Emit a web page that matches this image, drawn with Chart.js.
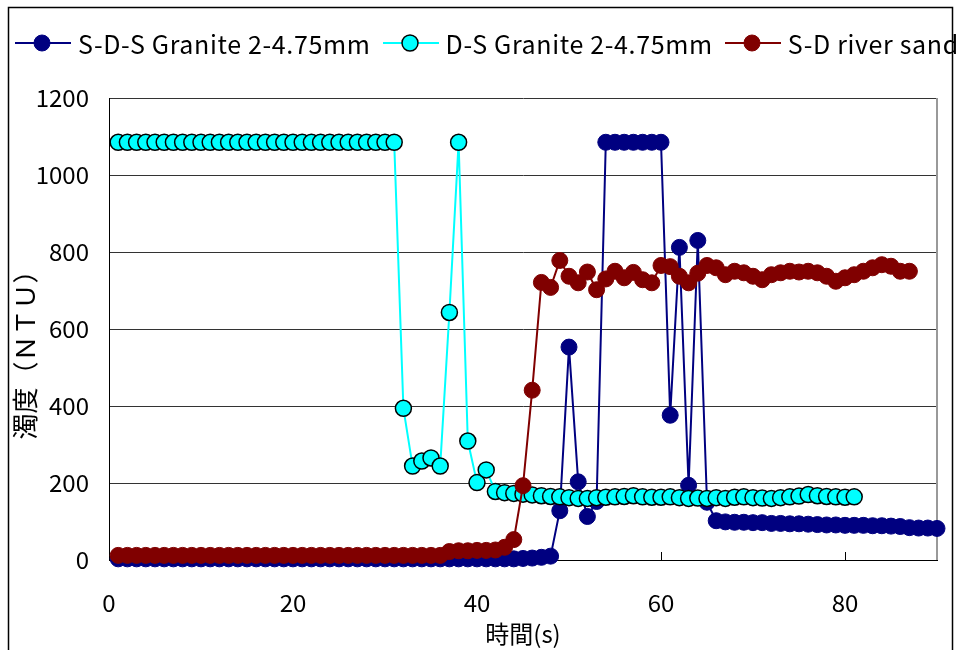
<!DOCTYPE html>
<html>
<head>
<meta charset="utf-8">
<script src="https://cdn.jsdelivr.net/npm/chart.js@4"></script>
<style>
  html, body { margin: 0; padding: 0; background: #fff; overflow: hidden; }
  #wrap { position: relative; width: 957px; height: 650px; overflow: hidden; }
  #legend { position: absolute; left: 15px; top: 25px; white-space: nowrap; display: flex; align-items: center;
            font-family: "Noto Sans CJK JP", sans-serif; font-size: 25px; letter-spacing: 0.65px; color: #000; }
  .item { display: flex; align-items: center; margin-right: 12px; }
  .item canvas { margin-right: 7px; }
</style>
</head>
<body>
<div id="wrap">
  <canvas id="chart" width="957" height="650"></canvas>
  <div id="legend"></div>
</div>
<script>
// time (s)
const seconds = [1,2,3,4,5,6,7,8,9,10,11,12,13,14,15,16,17,18,19,20,
    21,22,23,24,25,26,27,28,29,30,31,32,33,34,35,36,37,38,39,40,
    41,42,43,44,45,46,47,48,49,50,51,52,53,54,55,56,57,58,59,60,
    61,62,63,64,65,66,67,68,69,70,71,72,73,74,75,76,77,78,79,80,
    81,82,83,84,85,86,87,88,89,90];

// turbidity (NTU)
const sdsGranite = [3,3,3,3,3,3,3,3,3,3,3,3,3,3,3,3,3,3,3,3,
    3,3,3,3,3,3,3,3,3,3,3,3,3,3,3,3,3,3,3,3,
    3,3,3,3,4,5,7,10,128,553,203,113,152,1085,1085,1085,1085,1085,1085,1085,
    376,812,194,830,150,102,99,98,98,97,97,95,95,94,94,93,92,91,91,90,
    90,90,89,89,88,87,84,83,83,82];
const dsGranite = [1085,1085,1085,1085,1085,1085,1085,1085,1085,1085,
    1085,1085,1085,1085,1085,1085,1085,1085,1085,1085,
    1085,1085,1085,1085,1085,1085,1085,1085,1085,1085,1085,
    394,244,257,265,244,643,1085,309,201,234,178,175,173,171,169,167,165,164,162,
    160,160,162,163,164,165,167,164,163,163,164,162,160,161,160,162,160,163,164,162,
    161,160,162,164,166,170,167,165,164,163,164];
const sdRiverSand = [12,12,12,12,12,12,12,12,12,12,12,12,12,12,12,12,12,12,12,12,
    12,12,12,12,12,12,12,12,12,12,12,12,12,12,12,12,
    22,24,24,25,25,26,33,53,193,441,721,708,778,
    737,720,748,702,730,750,733,747,728,720,
    765,762,737,720,745,765,759,741,750,746,
    737,728,741,746,750,748,750,746,737,724,
    733,741,750,759,767,763,750,750];

const seriesNames = ['S-D-S Granite 2-4.75mm', 'D-S Granite 2-4.75mm', 'S-D river sand'];
const xTicks = [0, 20, 40, 60, 80];
const yTicks = [0, 200, 400, 600, 800, 1000, 1200];

const toPoints = (values) => values.map((v, i) => ({x: seconds[i], y: v}));

const makeSeries = (label, values, color, edge, edgeWidth, order) => ({
    label: label,
    data: toPoints(values),
    borderColor: color,
    backgroundColor: color,
    borderWidth: 2,
    pointRadius: 8,
    pointBackgroundColor: color,
    pointBorderColor: edge,
    pointBorderWidth: edgeWidth,
    order: order,
    clip: false,
    tension: 0,
});

// icon for the html legend: a short line with the marker in the middle
const legendIcon = (ds) => {
    const c = document.createElement('canvas');
    c.width = 56;
    c.height = 22;
    const ctx = c.getContext('2d');
    ctx.strokeStyle = ds.borderColor;
    ctx.lineWidth = 2;
    ctx.beginPath();
    ctx.moveTo(0, 11);
    ctx.lineTo(56, 11);
    ctx.stroke();
    ctx.beginPath();
    ctx.arc(27, 11, 8, 0, Math.PI * 2);
    ctx.fillStyle = ds.pointBackgroundColor;
    ctx.fill();
    ctx.lineWidth = ds.pointBorderWidth;
    ctx.strokeStyle = ds.pointBorderColor;
    ctx.stroke();
    return c;
};

const htmlLegend = {
    id: 'htmlLegend',
    afterUpdate(chart) {
        const box = document.getElementById('legend');
        box.innerHTML = '';
        chart.data.datasets.forEach((ds) => {
            const item = document.createElement('div');
            item.className = 'item';
            item.appendChild(legendIcon(ds));
            const text = document.createElement('span');
            text.textContent = ds.label;
            item.appendChild(text);
            box.appendChild(item);
        });
    }
};

const chartFrame = {
    id: 'chartFrame',
    beforeDraw(chart) {
        const ctx = chart.ctx;
        ctx.save();
        ctx.strokeStyle = '#000';
        ctx.lineWidth = 1.5;
        ctx.strokeRect(8.5, 7.5, 944, 700);
        ctx.restore();
    },
    beforeDatasetsDraw(chart) {
        const {ctx, chartArea: a, scales: {x}} = chart;
        ctx.save();
        ctx.strokeStyle = '#999';
        ctx.lineWidth = 2;
        ctx.beginPath();
        ctx.moveTo(a.right, a.top);
        ctx.lineTo(a.right, a.bottom);
        ctx.stroke();
        ctx.strokeStyle = '#000';
        ctx.lineWidth = 1;
        ctx.beginPath();
        for (const v of xTicks) {
            const px = Math.round(x.getPixelForValue(v)) + 0.5;
            ctx.moveTo(px, a.bottom);
            ctx.lineTo(px, a.bottom - 8);
        }
        ctx.stroke();
        ctx.restore();
    }
};

Chart.defaults.font.family = '"Noto Sans CJK JP", sans-serif';
Chart.defaults.font.size = 24;
Chart.defaults.color = '#000';

new Chart(document.getElementById('chart'), {
    type: 'line',
    data: {
        datasets: [
            makeSeries(seriesNames[0], sdsGranite, '#000080', '#000080', 1, 3),
            makeSeries(seriesNames[1], dsGranite, '#00FFFF', '#000000', 1.5, 2),
            makeSeries(seriesNames[2], sdRiverSand, '#800000', '#800000', 1, 1),
        ]
    },
    options: {
        responsive: false,
        animation: false,
        events: [],
        layout: { padding: { left: 8, top: 98, right: 20, bottom: 0 } },
        plugins: {
            legend: { display: false },
            tooltip: { enabled: false },
        },
        scales: {
            x: {
                type: 'linear',
                min: 0,
                max: 90,
                afterBuildTicks: (scale) => { scale.ticks = xTicks.map(v => ({value: v})); },
                afterFit: (scale) => { scale.height = 90; },
                grid: { display: false },
                border: { display: true, color: '#000', width: 1 },
                ticks: { padding: 20, maxRotation: 0, callback: (v) => String(v) },
                title: { display: true, text: '時間(s)', padding: { top: 0, bottom: 2 } },
            },
            y: {
                min: 0,
                max: 1200,
                afterBuildTicks: (scale) => { scale.ticks = yTicks.map(v => ({value: v})); },
                afterFit: (scale) => { scale.width = 101; },
                grid: { color: '#333', lineWidth: 1, drawTicks: false },
                border: { display: true, color: '#000', width: 1 },
                ticks: { padding: 20, callback: (v) => String(v) },
                title: { display: true, text: '濁度（ＮＴＵ）\u3000\u3000', font: { size: 26 }, padding: { top: 2, bottom: 0 } },
            }
        }
    },
    plugins: [htmlLegend, chartFrame]
});
</script>
</body>
</html>
